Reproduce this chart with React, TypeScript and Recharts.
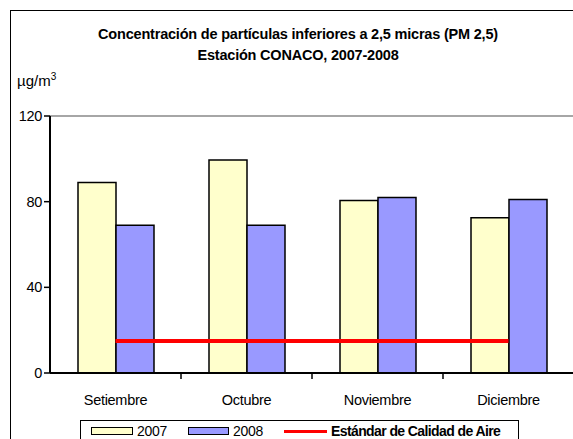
import React from "react";
import {
  ComposedChart,
  Bar,
  Line,
  XAxis,
  YAxis,
  ReferenceLine,
} from "recharts";

const months = ["Setiembre", "Octubre", "Noviembre", "Diciembre"];
const values2007 = [89, 99.5, 80.5, 72.5];
const values2008 = [69, 69, 82, 81];
const standard = [15, 15, 15, 15];
const yTicks = [0, 40, 80, 120];

const data = months.map((m, i) => ({
  month: m,
  y2007: values2007[i],
  y2008: values2008[i],
  std: standard[i],
}));

const FONT = "'Liberation Sans', Arial, sans-serif";

const XTick = (props: any) => {
  const { x, y, payload, index } = props;
  const half = payload && payload.offset ? payload.offset : 65.5;
  return (
    <g>
      {index < months.length - 1 && (
        <line x1={x + half} x2={x + half} y1={y - 8} y2={y - 2} stroke="#000" strokeWidth={1.5} />
      )}
      <text x={x} y={y + 24} textAnchor="middle" fontSize={14.5} fontFamily={FONT} fill="#000" letterSpacing={-0.3}>
        {payload.value}
      </text>
    </g>
  );
};

export default function App() {
  return (
    <div style={{ position: "absolute", left: 0, top: 0, width: 620, height: 460, background: "#fff", overflow: "hidden" }}>
      <div
        style={{
          position: "absolute",
          left: 10,
          top: 10,
          width: 600,
          height: 460,
          border: "1.5px solid #000",
          boxSizing: "border-box",
        }}
      />
      <div style={{ position: "absolute", left: 0, top: 24, width: 596, textAlign: "center", fontFamily: FONT, fontWeight: "bold", fontSize: 14.5, lineHeight: "21px", color: "#000", letterSpacing: -0.2 }}>
        <div>Concentración de partículas inferiores a 2,5 micras (PM 2,5)</div>
        <div>Estación CONACO, 2007-2008</div>
      </div>
      <div style={{ position: "absolute", left: 17, top: 71, fontFamily: FONT, fontSize: 15, color: "#000" }}>
        µg/m<sup style={{ fontSize: 10, verticalAlign: "6px" }}>3</sup>
      </div>
      <div style={{ position: "absolute", left: 0, top: 0 }}>
        <ComposedChart
          width={620}
          height={460}
          data={data}
          margin={{ top: 116, right: 46, bottom: 57, left: 10 }}
          barCategoryGap={28}
          barGap={0}
        >
          <XAxis
            dataKey="month"
            height={30}
            axisLine={{ stroke: "#000", strokeWidth: 2 }}
            tickLine={false}
            tick={<XTick />}
            interval={0}
          />
          <YAxis
            width={40}
            domain={[0, 120]}
            ticks={yTicks}
            interval={0}
            axisLine={{ stroke: "#000", strokeWidth: 2 }}
            tickLine={{ stroke: "#000", strokeWidth: 1.5 }}
            tickSize={6}
            tick={{ fontSize: 14.5, fontFamily: FONT, fill: "#000", letterSpacing: -0.3 }}
          />
          <ReferenceLine y={120} stroke="#888" strokeWidth={1.5} />
          <Bar dataKey="y2007" fill="#FFFFCC" stroke="#000" strokeWidth={1.5} isAnimationActive={false} />
          <Bar dataKey="y2008" fill="#9999FF" stroke="#000" strokeWidth={1.5} isAnimationActive={false} />
          <Line dataKey="std" stroke="#FF0000" strokeWidth={4} dot={false} isAnimationActive={false} />
        </ComposedChart>
      </div>
      <div
        style={{
          position: "absolute",
          left: 80,
          top: 420,
          width: 439,
          height: 30,
          border: "1px solid #000",
          boxSizing: "border-box",
          fontFamily: FONT,
          fontSize: 14,
          color: "#000",
          whiteSpace: "nowrap",
        }}
      >
        <div style={{ position: "absolute", left: 10, top: 6, width: 42, height: 8, background: "#FFFFCC", border: "1.5px solid #000", boxSizing: "border-box" }} />
        <div style={{ position: "absolute", left: 56, top: 2, lineHeight: "16px", letterSpacing: -0.3 }}>2007</div>
        <div style={{ position: "absolute", left: 107, top: 6, width: 41, height: 8, background: "#9999FF", border: "1.5px solid #000", boxSizing: "border-box" }} />
        <div style={{ position: "absolute", left: 152, top: 2, lineHeight: "16px", letterSpacing: -0.3 }}>2008</div>
        <div style={{ position: "absolute", left: 203, top: 9, width: 43, height: 3, background: "#FF0000" }} />
        <div style={{ position: "absolute", left: 250, top: 2, lineHeight: "16px", fontWeight: "bold", letterSpacing: -0.6 }}>Estándar de Calidad de Aire</div>
      </div>
    </div>
  );
}
